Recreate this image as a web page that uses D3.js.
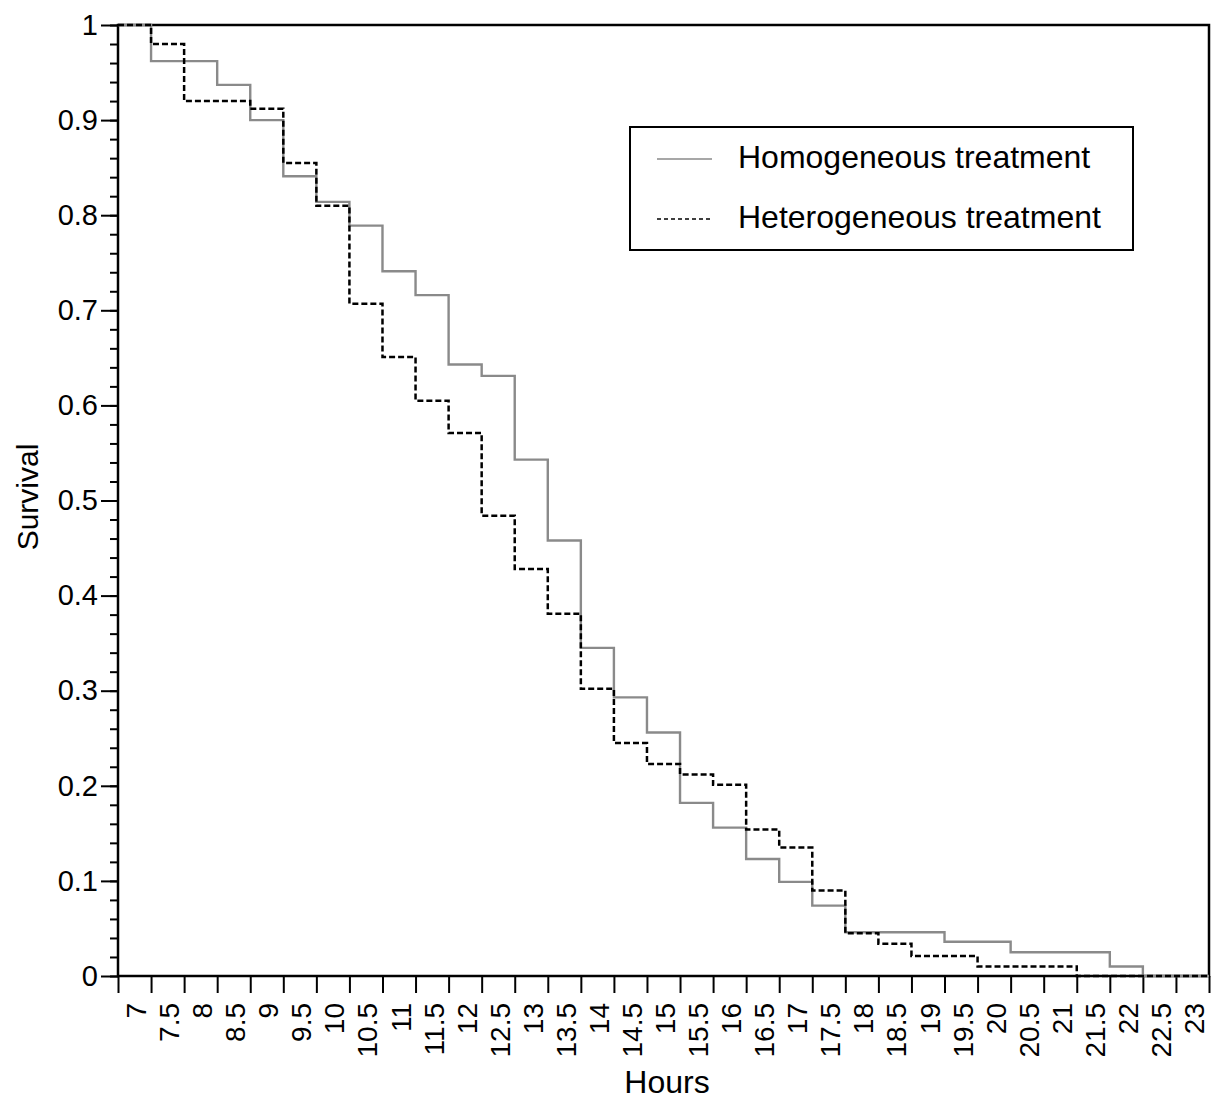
<!DOCTYPE html>
<html>
<head>
<meta charset="utf-8">
<script src="https://cdn.jsdelivr.net/npm/d3@7"></script>
<style>
  body { margin: 0; background: #fff; }
  text { font-family: "Liberation Sans", Arial, Helvetica, sans-serif; fill: #000; }
</style>
</head>
<body>
<div id="my_dataviz"></div>
<script>
// survival curves, value holds from each hour until the next one
var homHours = [6.5, 7, 8, 8.5, 9, 9.5, 10, 10.5, 11, 11.5, 12, 12.5, 13, 13.5, 14, 14.5, 15, 15.5, 16, 16.5, 17, 17.5, 19, 20, 21.5, 22]
var homSurvival = [1, 0.962, 0.937, 0.900, 0.841, 0.814, 0.789, 0.741, 0.716, 0.643, 0.631, 0.543, 0.458, 0.345, 0.293, 0.256, 0.182, 0.156, 0.123, 0.099, 0.074, 0.046, 0.036, 0.025, 0.010, 0]

var hetHours = [6.5, 7, 7.5, 8.5, 9, 9.5, 10, 10.5, 11, 11.5, 12, 12.5, 13, 13.5, 14, 14.5, 15, 15.5, 16, 16.5, 17, 17.5, 18, 18.5, 19.5, 21]
var hetSurvival = [1, 0.980, 0.920, 0.912, 0.855, 0.810, 0.707, 0.651, 0.605, 0.571, 0.484, 0.428, 0.381, 0.302, 0.245, 0.223, 0.212, 0.201, 0.154, 0.135, 0.090, 0.045, 0.034, 0.021, 0.010, 0]

var seriesNames = ["Homogeneous treatment", "Heterogeneous treatment"]

// tick labels
var xTicks = [7, 7.5, 8, 8.5, 9, 9.5, 10, 10.5, 11, 11.5, 12, 12.5, 13, 13.5, 14, 14.5, 15, 15.5, 16, 16.5, 17, 17.5, 18, 18.5, 19, 19.5, 20, 20.5, 21, 21.5, 22, 22.5, 23]
var xLabels = ["7", "7.5", "8", "8.5", "9", "9.5", "10", "10.5", "11", "11.5", "12", "12.5", "13", "13.5", "14", "14.5", "15", "15.5", "16", "16.5", "17", "17.5", "18", "18.5", "19", "19.5", "20", "20.5", "21", "21.5", "22", "22.5", "23"]
var yTicks = [0, 0.1, 0.2, 0.3, 0.4, 0.5, 0.6, 0.7, 0.8, 0.9, 1]
var yLabels = ["0", "0.1", "0.2", "0.3", "0.4", "0.5", "0.6", "0.7", "0.8", "0.9", "1"]

var margin = { top: 25, right: 3, bottom: 125, left: 118 },
  width = 1212 - margin.left - margin.right,
  height = 1101 - margin.top - margin.bottom;

var svg = d3.select("#my_dataviz")
  .append("svg")
  .attr("width", width + margin.left + margin.right)
  .attr("height", height + margin.top + margin.bottom)
  .append("g")
  .attr("transform", "translate(" + margin.left + "," + margin.top + ")");

var x = d3.scaleLinear().domain([6.5, 23]).range([0, width])
var y = d3.scaleLinear().domain([0, 1]).range([height, 0])

// frame
svg.append("rect")
  .attr("x", 0).attr("y", 0)
  .attr("width", width).attr("height", height)
  .style("fill", "none").style("stroke", "#000").style("stroke-width", 2.5)

// Y axis: major ticks with labels, minor ticks every 0.02
var yMinor = d3.range(0, 1.001, 0.02)
svg.append("g")
  .call(d3.axisLeft(y).tickValues(yMinor).tickSize(8).tickSizeOuter(0).tickFormat(""))
  .call(function (g) { g.select(".domain").remove() })
  .selectAll("line").style("stroke-width", 2)

var yAxis = svg.append("g")
  .call(d3.axisLeft(y).tickValues(yTicks).tickSize(17).tickPadding(3).tickSizeOuter(0)
    .tickFormat(function (d, i) { return yLabels[i] }))
yAxis.select(".domain").remove()
yAxis.selectAll("line").style("stroke-width", 2)
yAxis.selectAll("text")
  .style("font-size", "29px")
  .attr("font-family", null)

// X axis: ticks at every half hour, rotated labels
var xAxis = svg.append("g")
  .attr("transform", "translate(0," + height + ")")
  .call(d3.axisBottom(x).tickValues([6.5].concat(xTicks)).tickSize(17).tickSizeOuter(0).tickFormat(""))
xAxis.select(".domain").remove()
xAxis.selectAll("line").style("stroke-width", 2)

svg.selectAll("xLabel")
  .data(xTicks)
  .enter()
  .append("text")
  .attr("transform", function (d) { return "translate(" + (x(d) - 5) + "," + (height + 27) + ") rotate(-90)" })
  .style("text-anchor", "end")
  .style("font-size", "28px")
  .text(function (d, i) { return xLabels[i] })

// axis titles
svg.append("text")
  .attr("x", 667 - margin.left)
  .attr("y", 1093 - margin.top)
  .style("text-anchor", "middle")
  .style("font-size", "32px")
  .text("Hours")

svg.append("text")
  .attr("transform", "translate(" + (38 - margin.left) + "," + (497 - margin.top) + ") rotate(-90)")
  .style("text-anchor", "middle")
  .style("font-size", "30px")
  .text("Survival")

// step lines
function steps(hours, surv) {
  var pts = hours.map(function (h, i) { return [h, surv[i]] })
  pts.push([23, surv[surv.length - 1]])
  return pts
}
var line = d3.line()
  .x(function (d) { return x(d[0]) })
  .y(function (d) { return y(d[1]) })
  .curve(d3.curveStepAfter)

svg.append("path")
  .attr("d", line(steps(homHours, homSurvival)))
  .style("fill", "none")
  .style("stroke", "#8a8a8a")
  .style("stroke-width", 2.4)

svg.append("path")
  .attr("d", line(steps(hetHours, hetSurvival)))
  .style("fill", "none")
  .style("stroke", "#000")
  .style("stroke-width", 2.5)
  .style("stroke-dasharray", "6,3")

// legend
var legend = svg.append("g").attr("transform", "translate(" + (630 - margin.left) + "," + (127 - margin.top) + ")")
legend.append("rect")
  .attr("width", 503).attr("height", 123)
  .style("fill", "#fff").style("stroke", "#000").style("stroke-width", 2)

seriesNames.forEach(function (name, i) {
  legend.append("line")
    .attr("x1", 27).attr("x2", 82)
    .attr("y1", 32 + i * 60).attr("y2", 32 + i * 60)
    .style("stroke", i == 0 ? "#8a8a8a" : "#000")
    .style("stroke-width", 1.6)
    .style("stroke-dasharray", i == 0 ? null : "4,3")
  legend.append("text")
    .attr("x", 108).attr("y", 41 + i * 60)
    .style("font-size", "32px")
    .text(name)
})
</script>
</body>
</html>
